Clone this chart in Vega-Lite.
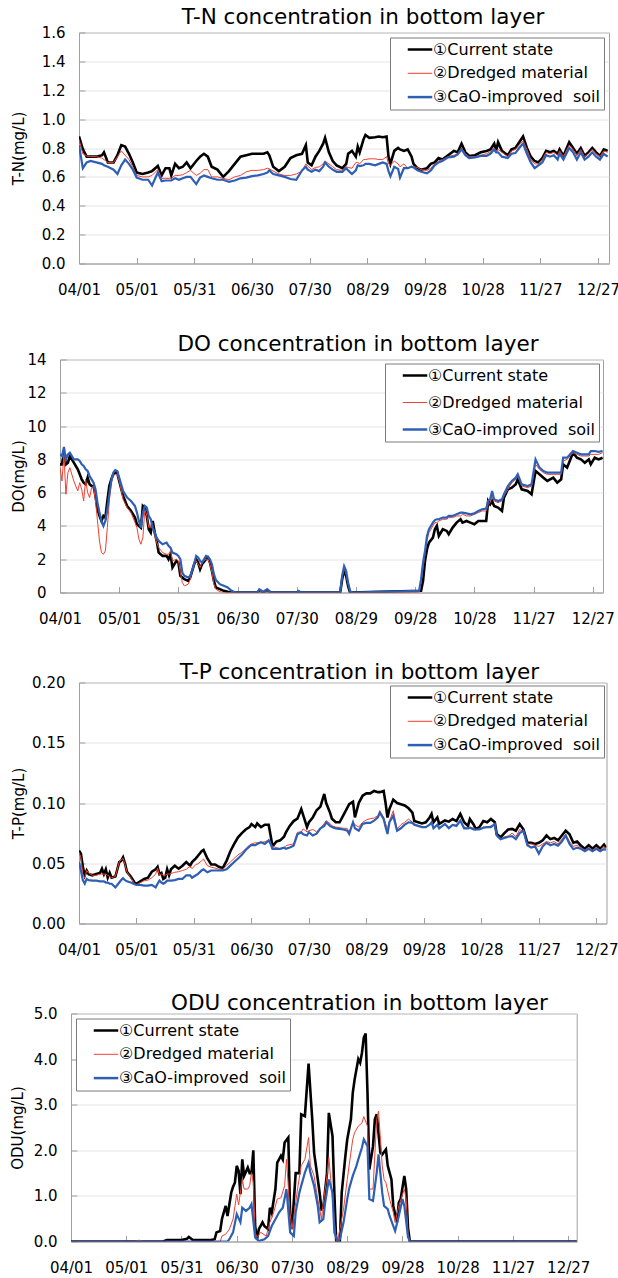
{
"$schema":"https://vega.github.io/schema/vega-lite/v6.json",
"background":"white",
"padding":{"left":9,"top":5.5,"right":0,"bottom":0},
"columns":1,
"spacing":34,
"config":{
 "view":{"stroke":"#a0a0a0","strokeWidth":1},
 "font":"DejaVu Sans",
 "axis":{"labelFont":"DejaVu Sans","labelFontSize":15,"labelColor":"#000","titleFont":"DejaVu Sans","titleFontSize":15,"titleFontWeight":"normal","titleColor":"#000","domainColor":"#a0a0a0","tickColor":"#a0a0a0","tickSize":-6,"labelFlush":false,"labelOverlap":false,"labelBound":false},
 "axisX":{"grid":false,"labelPadding":25},
 "axisY":{"grid":true,"gridColor":"#e4e4e4","labelPadding":20},
 "title":{"font":"DejaVu Sans","fontSize":21.5,"fontWeight":"normal","color":"#000","anchor":"middle","frame":"group"},
 "legend":{"fillColor":"#ffffff","strokeColor":"#7a7a7a","padding":4,"symbolType":"stroke","symbolSize":600,"symbolOffset":18,"symbolStrokeWidth":2.5,"labelFont":"DejaVu Sans","labelFontSize":16,"labelColor":"#000","labelOffset":5,"rowPadding":7.8,"labelLimit":300}
},
"resolve":{"scale":{"color":"independent"},"legend":{"color":"independent"}},
"datasets":{
"tn":[
{"d":0,"s":"a","v":0.88},{"d":2,"s":"a","v":0.79},{"d":4,"s":"a","v":0.74},{"d":6,"s":"a","v":0.74},{"d":9,"s":"a","v":0.74},{"d":12,"s":"a","v":0.75},{"d":13,"s":"a","v":0.77},{"d":15,"s":"a","v":0.70},{"d":18,"s":"a","v":0.70},{"d":20,"s":"a","v":0.75},{"d":22,"s":"a","v":0.82},{"d":24,"s":"a","v":0.81},{"d":26,"s":"a","v":0.76},{"d":28,"s":"a","v":0.70},{"d":30,"s":"a","v":0.63},{"d":33,"s":"a","v":0.62},{"d":36,"s":"a","v":0.63},{"d":38,"s":"a","v":0.64},{"d":41,"s":"a","v":0.675},{"d":43,"s":"a","v":0.61},{"d":45,"s":"a","v":0.66},{"d":47,"s":"a","v":0.66},{"d":48,"s":"a","v":0.61},{"d":50,"s":"a","v":0.69},{"d":52,"s":"a","v":0.66},{"d":54,"s":"a","v":0.67},{"d":56,"s":"a","v":0.70},{"d":58,"s":"a","v":0.66},{"d":61,"s":"a","v":0.71},{"d":63,"s":"a","v":0.74},{"d":65,"s":"a","v":0.76},{"d":67,"s":"a","v":0.74},{"d":69,"s":"a","v":0.67},{"d":72,"s":"a","v":0.65},{"d":75,"s":"a","v":0.60},{"d":78,"s":"a","v":0.64},{"d":81,"s":"a","v":0.69},{"d":84,"s":"a","v":0.74},{"d":87,"s":"a","v":0.75},{"d":90,"s":"a","v":0.76},{"d":93,"s":"a","v":0.76},{"d":96,"s":"a","v":0.76},{"d":98,"s":"a","v":0.77},{"d":99,"s":"a","v":0.75},{"d":101,"s":"a","v":0.67},{"d":104,"s":"a","v":0.64},{"d":107,"s":"a","v":0.67},{"d":110,"s":"a","v":0.73},{"d":113,"s":"a","v":0.75},{"d":116,"s":"a","v":0.76},{"d":118,"s":"a","v":0.82},{"d":119,"s":"a","v":0.70},{"d":121,"s":"a","v":0.68},{"d":123,"s":"a","v":0.74},{"d":125,"s":"a","v":0.78},{"d":127,"s":"a","v":0.83},{"d":128,"s":"a","v":0.87},{"d":130,"s":"a","v":0.77},{"d":132,"s":"a","v":0.71},{"d":134,"s":"a","v":0.68},{"d":137,"s":"a","v":0.66},{"d":139,"s":"a","v":0.69},{"d":140,"s":"a","v":0.76},{"d":142,"s":"a","v":0.78},{"d":144,"s":"a","v":0.74},{"d":145,"s":"a","v":0.81},{"d":146,"s":"a","v":0.77},{"d":148,"s":"a","v":0.86},{"d":149,"s":"a","v":0.89},{"d":151,"s":"a","v":0.87},{"d":154,"s":"a","v":0.875},{"d":156,"s":"a","v":0.88},{"d":158,"s":"a","v":0.875},{"d":160,"s":"a","v":0.88},{"d":161,"s":"a","v":0.74},{"d":162,"s":"a","v":0.69},{"d":164,"s":"a","v":0.78},{"d":166,"s":"a","v":0.80},{"d":167,"s":"a","v":0.79},{"d":169,"s":"a","v":0.78},{"d":171,"s":"a","v":0.79},{"d":173,"s":"a","v":0.74},{"d":174,"s":"a","v":0.69},{"d":176,"s":"a","v":0.66},{"d":178,"s":"a","v":0.65},{"d":181,"s":"a","v":0.66},{"d":183,"s":"a","v":0.69},{"d":185,"s":"a","v":0.70},{"d":187,"s":"a","v":0.73},{"d":189,"s":"a","v":0.72},{"d":192,"s":"a","v":0.75},{"d":195,"s":"a","v":0.78},{"d":197,"s":"a","v":0.77},{"d":199,"s":"a","v":0.83},{"d":201,"s":"a","v":0.77},{"d":203,"s":"a","v":0.745},{"d":206,"s":"a","v":0.75},{"d":209,"s":"a","v":0.77},{"d":212,"s":"a","v":0.78},{"d":214,"s":"a","v":0.79},{"d":216,"s":"a","v":0.83},{"d":217,"s":"a","v":0.78},{"d":218,"s":"a","v":0.84},{"d":220,"s":"a","v":0.78},{"d":223,"s":"a","v":0.75},{"d":225,"s":"a","v":0.79},{"d":227,"s":"a","v":0.80},{"d":229,"s":"a","v":0.84},{"d":231,"s":"a","v":0.88},{"d":233,"s":"a","v":0.80},{"d":235,"s":"a","v":0.74},{"d":237,"s":"a","v":0.71},{"d":239,"s":"a","v":0.70},{"d":241,"s":"a","v":0.73},{"d":243,"s":"a","v":0.78},{"d":245,"s":"a","v":0.77},{"d":247,"s":"a","v":0.78},{"d":249,"s":"a","v":0.76},{"d":250,"s":"a","v":0.79},{"d":252,"s":"a","v":0.745},{"d":255,"s":"a","v":0.84},{"d":257,"s":"a","v":0.80},{"d":259,"s":"a","v":0.76},{"d":261,"s":"a","v":0.80},{"d":263,"s":"a","v":0.745},{"d":265,"s":"a","v":0.77},{"d":267,"s":"a","v":0.80},{"d":269,"s":"a","v":0.77},{"d":271,"s":"a","v":0.745},{"d":273,"s":"a","v":0.79},{"d":275,"s":"a","v":0.78},
{"d":0,"s":"b","v":0.86},{"d":2,"s":"b","v":0.76},{"d":4,"s":"b","v":0.745},{"d":6,"s":"b","v":0.74},{"d":9,"s":"b","v":0.74},{"d":12,"s":"b","v":0.73},{"d":13,"s":"b","v":0.72},{"d":15,"s":"b","v":0.70},{"d":18,"s":"b","v":0.70},{"d":20,"s":"b","v":0.74},{"d":22,"s":"b","v":0.78},{"d":24,"s":"b","v":0.75},{"d":26,"s":"b","v":0.72},{"d":28,"s":"b","v":0.67},{"d":30,"s":"b","v":0.61},{"d":33,"s":"b","v":0.60},{"d":36,"s":"b","v":0.60},{"d":38,"s":"b","v":0.61},{"d":41,"s":"b","v":0.65},{"d":43,"s":"b","v":0.59},{"d":45,"s":"b","v":0.59},{"d":47,"s":"b","v":0.59},{"d":48,"s":"b","v":0.59},{"d":50,"s":"b","v":0.61},{"d":52,"s":"b","v":0.61},{"d":54,"s":"b","v":0.615},{"d":56,"s":"b","v":0.63},{"d":58,"s":"b","v":0.645},{"d":61,"s":"b","v":0.61},{"d":63,"s":"b","v":0.625},{"d":65,"s":"b","v":0.65},{"d":67,"s":"b","v":0.65},{"d":69,"s":"b","v":0.60},{"d":72,"s":"b","v":0.60},{"d":75,"s":"b","v":0.59},{"d":78,"s":"b","v":0.58},{"d":81,"s":"b","v":0.60},{"d":84,"s":"b","v":0.61},{"d":87,"s":"b","v":0.635},{"d":90,"s":"b","v":0.645},{"d":93,"s":"b","v":0.645},{"d":96,"s":"b","v":0.65},{"d":98,"s":"b","v":0.66},{"d":99,"s":"b","v":0.655},{"d":101,"s":"b","v":0.64},{"d":104,"s":"b","v":0.62},{"d":107,"s":"b","v":0.61},{"d":110,"s":"b","v":0.61},{"d":113,"s":"b","v":0.62},{"d":116,"s":"b","v":0.64},{"d":118,"s":"b","v":0.69},{"d":119,"s":"b","v":0.675},{"d":121,"s":"b","v":0.65},{"d":123,"s":"b","v":0.665},{"d":125,"s":"b","v":0.67},{"d":127,"s":"b","v":0.69},{"d":128,"s":"b","v":0.71},{"d":130,"s":"b","v":0.69},{"d":132,"s":"b","v":0.67},{"d":134,"s":"b","v":0.65},{"d":137,"s":"b","v":0.645},{"d":139,"s":"b","v":0.67},{"d":140,"s":"b","v":0.665},{"d":142,"s":"b","v":0.66},{"d":144,"s":"b","v":0.70},{"d":145,"s":"b","v":0.70},{"d":146,"s":"b","v":0.69},{"d":148,"s":"b","v":0.72},{"d":149,"s":"b","v":0.72},{"d":151,"s":"b","v":0.725},{"d":154,"s":"b","v":0.725},{"d":156,"s":"b","v":0.72},{"d":158,"s":"b","v":0.72},{"d":160,"s":"b","v":0.74},{"d":161,"s":"b","v":0.69},{"d":162,"s":"b","v":0.68},{"d":164,"s":"b","v":0.71},{"d":166,"s":"b","v":0.69},{"d":167,"s":"b","v":0.67},{"d":169,"s":"b","v":0.69},{"d":171,"s":"b","v":0.66},{"d":173,"s":"b","v":0.675},{"d":174,"s":"b","v":0.67},{"d":176,"s":"b","v":0.665},{"d":178,"s":"b","v":0.65},{"d":181,"s":"b","v":0.645},{"d":183,"s":"b","v":0.66},{"d":185,"s":"b","v":0.69},{"d":187,"s":"b","v":0.71},{"d":189,"s":"b","v":0.72},{"d":192,"s":"b","v":0.74},{"d":195,"s":"b","v":0.75},{"d":197,"s":"b","v":0.76},{"d":199,"s":"b","v":0.80},{"d":201,"s":"b","v":0.76},{"d":203,"s":"b","v":0.74},{"d":206,"s":"b","v":0.74},{"d":209,"s":"b","v":0.75},{"d":212,"s":"b","v":0.76},{"d":214,"s":"b","v":0.775},{"d":216,"s":"b","v":0.80},{"d":217,"s":"b","v":0.78},{"d":218,"s":"b","v":0.79},{"d":220,"s":"b","v":0.77},{"d":223,"s":"b","v":0.74},{"d":225,"s":"b","v":0.78},{"d":227,"s":"b","v":0.79},{"d":229,"s":"b","v":0.82},{"d":231,"s":"b","v":0.85},{"d":233,"s":"b","v":0.79},{"d":235,"s":"b","v":0.72},{"d":237,"s":"b","v":0.69},{"d":239,"s":"b","v":0.69},{"d":241,"s":"b","v":0.72},{"d":243,"s":"b","v":0.77},{"d":245,"s":"b","v":0.76},{"d":247,"s":"b","v":0.77},{"d":249,"s":"b","v":0.75},{"d":250,"s":"b","v":0.78},{"d":252,"s":"b","v":0.74},{"d":255,"s":"b","v":0.82},{"d":257,"s":"b","v":0.79},{"d":259,"s":"b","v":0.75},{"d":261,"s":"b","v":0.79},{"d":263,"s":"b","v":0.74},{"d":265,"s":"b","v":0.76},{"d":267,"s":"b","v":0.79},{"d":269,"s":"b","v":0.76},{"d":271,"s":"b","v":0.74},{"d":273,"s":"b","v":0.78},{"d":275,"s":"b","v":0.77},
{"d":0,"s":"c","v":0.82},{"d":2,"s":"c","v":0.66},{"d":4,"s":"c","v":0.70},{"d":6,"s":"c","v":0.71},{"d":9,"s":"c","v":0.70},{"d":12,"s":"c","v":0.69},{"d":13,"s":"c","v":0.68},{"d":15,"s":"c","v":0.67},{"d":18,"s":"c","v":0.65},{"d":20,"s":"c","v":0.62},{"d":22,"s":"c","v":0.68},{"d":24,"s":"c","v":0.72},{"d":26,"s":"c","v":0.69},{"d":28,"s":"c","v":0.65},{"d":30,"s":"c","v":0.595},{"d":33,"s":"c","v":0.58},{"d":36,"s":"c","v":0.58},{"d":38,"s":"c","v":0.54},{"d":41,"s":"c","v":0.63},{"d":43,"s":"c","v":0.57},{"d":45,"s":"c","v":0.575},{"d":47,"s":"c","v":0.575},{"d":48,"s":"c","v":0.575},{"d":50,"s":"c","v":0.59},{"d":52,"s":"c","v":0.58},{"d":54,"s":"c","v":0.59},{"d":56,"s":"c","v":0.60},{"d":58,"s":"c","v":0.60},{"d":61,"s":"c","v":0.55},{"d":63,"s":"c","v":0.595},{"d":65,"s":"c","v":0.61},{"d":67,"s":"c","v":0.60},{"d":69,"s":"c","v":0.59},{"d":72,"s":"c","v":0.58},{"d":75,"s":"c","v":0.58},{"d":78,"s":"c","v":0.565},{"d":81,"s":"c","v":0.575},{"d":84,"s":"c","v":0.59},{"d":87,"s":"c","v":0.595},{"d":90,"s":"c","v":0.605},{"d":93,"s":"c","v":0.61},{"d":96,"s":"c","v":0.62},{"d":98,"s":"c","v":0.63},{"d":99,"s":"c","v":0.645},{"d":101,"s":"c","v":0.62},{"d":104,"s":"c","v":0.61},{"d":107,"s":"c","v":0.60},{"d":110,"s":"c","v":0.585},{"d":113,"s":"c","v":0.58},{"d":116,"s":"c","v":0.645},{"d":118,"s":"c","v":0.67},{"d":119,"s":"c","v":0.65},{"d":121,"s":"c","v":0.635},{"d":123,"s":"c","v":0.65},{"d":125,"s":"c","v":0.64},{"d":127,"s":"c","v":0.67},{"d":128,"s":"c","v":0.70},{"d":130,"s":"c","v":0.67},{"d":132,"s":"c","v":0.65},{"d":134,"s":"c","v":0.635},{"d":137,"s":"c","v":0.635},{"d":139,"s":"c","v":0.66},{"d":140,"s":"c","v":0.645},{"d":142,"s":"c","v":0.62},{"d":144,"s":"c","v":0.645},{"d":145,"s":"c","v":0.68},{"d":146,"s":"c","v":0.675},{"d":148,"s":"c","v":0.68},{"d":149,"s":"c","v":0.69},{"d":151,"s":"c","v":0.69},{"d":154,"s":"c","v":0.68},{"d":156,"s":"c","v":0.69},{"d":158,"s":"c","v":0.70},{"d":160,"s":"c","v":0.69},{"d":161,"s":"c","v":0.64},{"d":162,"s":"c","v":0.605},{"d":164,"s":"c","v":0.67},{"d":166,"s":"c","v":0.655},{"d":167,"s":"c","v":0.595},{"d":169,"s":"c","v":0.66},{"d":171,"s":"c","v":0.66},{"d":173,"s":"c","v":0.67},{"d":174,"s":"c","v":0.665},{"d":176,"s":"c","v":0.645},{"d":178,"s":"c","v":0.635},{"d":181,"s":"c","v":0.625},{"d":183,"s":"c","v":0.645},{"d":185,"s":"c","v":0.68},{"d":187,"s":"c","v":0.70},{"d":189,"s":"c","v":0.71},{"d":192,"s":"c","v":0.735},{"d":195,"s":"c","v":0.74},{"d":197,"s":"c","v":0.755},{"d":199,"s":"c","v":0.79},{"d":201,"s":"c","v":0.75},{"d":203,"s":"c","v":0.73},{"d":206,"s":"c","v":0.735},{"d":209,"s":"c","v":0.745},{"d":212,"s":"c","v":0.745},{"d":214,"s":"c","v":0.76},{"d":216,"s":"c","v":0.79},{"d":217,"s":"c","v":0.77},{"d":218,"s":"c","v":0.77},{"d":220,"s":"c","v":0.74},{"d":223,"s":"c","v":0.73},{"d":225,"s":"c","v":0.76},{"d":227,"s":"c","v":0.765},{"d":229,"s":"c","v":0.80},{"d":231,"s":"c","v":0.83},{"d":233,"s":"c","v":0.76},{"d":235,"s":"c","v":0.70},{"d":237,"s":"c","v":0.66},{"d":239,"s":"c","v":0.68},{"d":241,"s":"c","v":0.70},{"d":243,"s":"c","v":0.75},{"d":245,"s":"c","v":0.74},{"d":247,"s":"c","v":0.75},{"d":249,"s":"c","v":0.72},{"d":250,"s":"c","v":0.76},{"d":252,"s":"c","v":0.72},{"d":255,"s":"c","v":0.80},{"d":257,"s":"c","v":0.77},{"d":259,"s":"c","v":0.72},{"d":261,"s":"c","v":0.77},{"d":263,"s":"c","v":0.72},{"d":265,"s":"c","v":0.74},{"d":267,"s":"c","v":0.77},{"d":269,"s":"c","v":0.74},{"d":271,"s":"c","v":0.72},{"d":273,"s":"c","v":0.76},{"d":275,"s":"c","v":0.74}
],
"do":[
{"d":0,"s":"a","v":7.7},{"d":1,"s":"a","v":7.7},{"d":2,"s":"a","v":8.4},{"d":3,"s":"a","v":7.7},{"d":4,"s":"a","v":7.8},{"d":5,"s":"a","v":8.2},{"d":7,"s":"a","v":7.8},{"d":9,"s":"a","v":7.4},{"d":10,"s":"a","v":7.1},{"d":11,"s":"a","v":6.8},{"d":12,"s":"a","v":6.6},{"d":13,"s":"a","v":6.5},{"d":14,"s":"a","v":6.9},{"d":15,"s":"a","v":6.5},{"d":16,"s":"a","v":6.4},{"d":17,"s":"a","v":6.4},{"d":18,"s":"a","v":5.8},{"d":19,"s":"a","v":5.0},{"d":20,"s":"a","v":4.6},{"d":21,"s":"a","v":4.3},{"d":22,"s":"a","v":4.6},{"d":23,"s":"a","v":4.5},{"d":24,"s":"a","v":5.5},{"d":25,"s":"a","v":6.4},{"d":26,"s":"a","v":6.8},{"d":27,"s":"a","v":7.1},{"d":28,"s":"a","v":7.2},{"d":29,"s":"a","v":7.2},{"d":30,"s":"a","v":6.7},{"d":32,"s":"a","v":5.8},{"d":34,"s":"a","v":5.2},{"d":36,"s":"a","v":4.9},{"d":38,"s":"a","v":4.5},{"d":39,"s":"a","v":4.1},{"d":40,"s":"a","v":4.0},{"d":41,"s":"a","v":3.9},{"d":42,"s":"a","v":5.2},{"d":43,"s":"a","v":5.1},{"d":44,"s":"a","v":4.6},{"d":45,"s":"a","v":3.8},{"d":46,"s":"a","v":3.6},{"d":47,"s":"a","v":4.3},{"d":48,"s":"a","v":3.6},{"d":49,"s":"a","v":3.1},{"d":50,"s":"a","v":2.4},{"d":52,"s":"a","v":2.2},{"d":54,"s":"a","v":2.2},{"d":55,"s":"a","v":2.0},{"d":56,"s":"a","v":2.3},{"d":57,"s":"a","v":1.5},{"d":59,"s":"a","v":1.9},{"d":60,"s":"a","v":1.8},{"d":61,"s":"a","v":1.0},{"d":62,"s":"a","v":0.9},{"d":63,"s":"a","v":0.8},{"d":65,"s":"a","v":0.7},{"d":66,"s":"a","v":0.9},{"d":68,"s":"a","v":1.7},{"d":69,"s":"a","v":2.0},{"d":70,"s":"a","v":1.8},{"d":71,"s":"a","v":1.4},{"d":72,"s":"a","v":1.7},{"d":74,"s":"a","v":2.0},{"d":75,"s":"a","v":2.1},{"d":76,"s":"a","v":1.8},{"d":77,"s":"a","v":1.3},{"d":78,"s":"a","v":0.7},{"d":79,"s":"a","v":0.3},{"d":81,"s":"a","v":0.2},{"d":83,"s":"a","v":0.1},{"d":85,"s":"a","v":0.04},{"d":87,"s":"a","v":0},{"d":100,"s":"a","v":0},{"d":101,"s":"a","v":0.1},{"d":103,"s":"a","v":0},{"d":105,"s":"a","v":0.1},{"d":107,"s":"a","v":0},{"d":120,"s":"a","v":0},{"d":121,"s":"a","v":0.05},{"d":122,"s":"a","v":0},{"d":142,"s":"a","v":0},{"d":143,"s":"a","v":0.8},{"d":144,"s":"a","v":1.34},{"d":145,"s":"a","v":1.0},{"d":146,"s":"a","v":0.4},{"d":147,"s":"a","v":0},{"d":183,"s":"a","v":0.1},{"d":184,"s":"a","v":0.7},{"d":185,"s":"a","v":1.9},{"d":186,"s":"a","v":2.6},{"d":187,"s":"a","v":3.0},{"d":189,"s":"a","v":3.3},{"d":190,"s":"a","v":3.8},{"d":191,"s":"a","v":4.0},{"d":192,"s":"a","v":3.4},{"d":194,"s":"a","v":3.8},{"d":196,"s":"a","v":3.7},{"d":197,"s":"a","v":3.5},{"d":199,"s":"a","v":3.9},{"d":201,"s":"a","v":4.2},{"d":203,"s":"a","v":4.4},{"d":204,"s":"a","v":4.2},{"d":206,"s":"a","v":4.3},{"d":208,"s":"a","v":4.2},{"d":210,"s":"a","v":4.1},{"d":212,"s":"a","v":4.3},{"d":214,"s":"a","v":4.3},{"d":216,"s":"a","v":4.3},{"d":217,"s":"a","v":5.5},{"d":218,"s":"a","v":5.3},{"d":219,"s":"a","v":5.5},{"d":220,"s":"a","v":5.2},{"d":222,"s":"a","v":5.1},{"d":224,"s":"a","v":4.9},{"d":225,"s":"a","v":5.7},{"d":227,"s":"a","v":6.2},{"d":229,"s":"a","v":6.3},{"d":231,"s":"a","v":6.5},{"d":232,"s":"a","v":6.8},{"d":234,"s":"a","v":6.2},{"d":237,"s":"a","v":6.1},{"d":239,"s":"a","v":5.9},{"d":241,"s":"a","v":7.3},{"d":243,"s":"a","v":7.1},{"d":245,"s":"a","v":6.9},{"d":247,"s":"a","v":6.7},{"d":250,"s":"a","v":6.9},{"d":252,"s":"a","v":6.6},{"d":254,"s":"a","v":6.8},{"d":255,"s":"a","v":7.7},{"d":257,"s":"a","v":7.5},{"d":260,"s":"a","v":8.4},{"d":262,"s":"a","v":8.1},{"d":264,"s":"a","v":8.0},{"d":266,"s":"a","v":7.8},{"d":268,"s":"a","v":8.0},{"d":269,"s":"a","v":7.7},{"d":271,"s":"a","v":8.1},{"d":273,"s":"a","v":8.0},{"d":275,"s":"a","v":8.1},
{"d":0,"s":"b","v":7.5},{"d":1,"s":"b","v":6.7},{"d":2,"s":"b","v":8.3},{"d":3,"s":"b","v":5.9},{"d":4,"s":"b","v":7.2},{"d":5,"s":"b","v":7.5},{"d":7,"s":"b","v":6.7},{"d":9,"s":"b","v":6.1},{"d":10,"s":"b","v":6.6},{"d":11,"s":"b","v":6.2},{"d":12,"s":"b","v":5.5},{"d":13,"s":"b","v":6.8},{"d":14,"s":"b","v":6.0},{"d":15,"s":"b","v":5.7},{"d":16,"s":"b","v":6.3},{"d":17,"s":"b","v":6.4},{"d":18,"s":"b","v":5.5},{"d":19,"s":"b","v":4.3},{"d":20,"s":"b","v":3.1},{"d":21,"s":"b","v":2.4},{"d":22,"s":"b","v":2.3},{"d":23,"s":"b","v":2.5},{"d":24,"s":"b","v":3.9},{"d":25,"s":"b","v":5.5},{"d":26,"s":"b","v":6.6},{"d":27,"s":"b","v":7.0},{"d":28,"s":"b","v":7.1},{"d":29,"s":"b","v":7.1},{"d":30,"s":"b","v":6.7},{"d":32,"s":"b","v":5.6},{"d":34,"s":"b","v":5.1},{"d":36,"s":"b","v":4.8},{"d":38,"s":"b","v":4.2},{"d":39,"s":"b","v":3.9},{"d":40,"s":"b","v":3.2},{"d":41,"s":"b","v":2.9},{"d":42,"s":"b","v":3.3},{"d":43,"s":"b","v":5.0},{"d":44,"s":"b","v":4.6},{"d":45,"s":"b","v":3.9},{"d":46,"s":"b","v":4.0},{"d":47,"s":"b","v":3.8},{"d":48,"s":"b","v":3.5},{"d":49,"s":"b","v":3.0},{"d":50,"s":"b","v":2.7},{"d":52,"s":"b","v":2.4},{"d":54,"s":"b","v":2.3},{"d":55,"s":"b","v":2.3},{"d":56,"s":"b","v":2.5},{"d":57,"s":"b","v":1.9},{"d":59,"s":"b","v":2.0},{"d":60,"s":"b","v":1.9},{"d":61,"s":"b","v":1.2},{"d":62,"s":"b","v":0.6},{"d":63,"s":"b","v":0.4},{"d":65,"s":"b","v":0.5},{"d":66,"s":"b","v":0.8},{"d":68,"s":"b","v":1.8},{"d":69,"s":"b","v":1.9},{"d":70,"s":"b","v":1.7},{"d":71,"s":"b","v":1.5},{"d":72,"s":"b","v":1.8},{"d":74,"s":"b","v":2.0},{"d":75,"s":"b","v":2.0},{"d":76,"s":"b","v":1.7},{"d":77,"s":"b","v":1.2},{"d":78,"s":"b","v":0.5},{"d":79,"s":"b","v":0.2},{"d":81,"s":"b","v":0.05},{"d":83,"s":"b","v":0},{"d":100,"s":"b","v":0},{"d":101,"s":"b","v":0.1},{"d":103,"s":"b","v":0},{"d":105,"s":"b","v":0.05},{"d":107,"s":"b","v":0},{"d":120,"s":"b","v":0},{"d":121,"s":"b","v":0.05},{"d":122,"s":"b","v":0},{"d":142,"s":"b","v":0},{"d":143,"s":"b","v":0.9},{"d":144,"s":"b","v":1.44},{"d":145,"s":"b","v":1.1},{"d":146,"s":"b","v":0.5},{"d":147,"s":"b","v":0.1},{"d":148,"s":"b","v":0},{"d":182,"s":"b","v":0},{"d":183,"s":"b","v":0.6},{"d":184,"s":"b","v":1.5},{"d":185,"s":"b","v":2.3},{"d":186,"s":"b","v":3.1},{"d":187,"s":"b","v":3.6},{"d":189,"s":"b","v":4.0},{"d":190,"s":"b","v":4.2},{"d":191,"s":"b","v":4.2},{"d":192,"s":"b","v":4.3},{"d":194,"s":"b","v":4.4},{"d":196,"s":"b","v":4.4},{"d":197,"s":"b","v":4.5},{"d":199,"s":"b","v":4.5},{"d":201,"s":"b","v":4.6},{"d":203,"s":"b","v":4.6},{"d":204,"s":"b","v":4.7},{"d":206,"s":"b","v":4.6},{"d":208,"s":"b","v":4.6},{"d":210,"s":"b","v":4.7},{"d":212,"s":"b","v":4.8},{"d":214,"s":"b","v":4.9},{"d":216,"s":"b","v":4.9},{"d":217,"s":"b","v":5.3},{"d":218,"s":"b","v":5.4},{"d":219,"s":"b","v":5.8},{"d":220,"s":"b","v":5.5},{"d":222,"s":"b","v":5.4},{"d":224,"s":"b","v":5.5},{"d":225,"s":"b","v":5.8},{"d":227,"s":"b","v":6.2},{"d":229,"s":"b","v":6.6},{"d":231,"s":"b","v":6.8},{"d":232,"s":"b","v":7.0},{"d":234,"s":"b","v":6.4},{"d":237,"s":"b","v":6.3},{"d":239,"s":"b","v":6.4},{"d":241,"s":"b","v":7.7},{"d":243,"s":"b","v":7.4},{"d":245,"s":"b","v":7.2},{"d":247,"s":"b","v":7.1},{"d":250,"s":"b","v":7.1},{"d":252,"s":"b","v":7.1},{"d":254,"s":"b","v":7.1},{"d":255,"s":"b","v":7.9},{"d":257,"s":"b","v":8.0},{"d":260,"s":"b","v":8.4},{"d":262,"s":"b","v":8.3},{"d":264,"s":"b","v":8.2},{"d":266,"s":"b","v":8.2},{"d":268,"s":"b","v":8.2},{"d":269,"s":"b","v":8.3},{"d":271,"s":"b","v":8.3},{"d":273,"s":"b","v":8.3},{"d":275,"s":"b","v":8.4},
{"d":0,"s":"c","v":8.3},{"d":1,"s":"c","v":8.2},{"d":2,"s":"c","v":8.74},{"d":3,"s":"c","v":8.0},{"d":4,"s":"c","v":8.3},{"d":5,"s":"c","v":8.4},{"d":7,"s":"c","v":8.0},{"d":9,"s":"c","v":8.0},{"d":10,"s":"c","v":7.9},{"d":11,"s":"c","v":7.7},{"d":12,"s":"c","v":7.6},{"d":13,"s":"c","v":7.4},{"d":14,"s":"c","v":7.3},{"d":15,"s":"c","v":7.0},{"d":16,"s":"c","v":6.8},{"d":17,"s":"c","v":6.6},{"d":18,"s":"c","v":6.2},{"d":19,"s":"c","v":5.4},{"d":20,"s":"c","v":4.8},{"d":21,"s":"c","v":4.3},{"d":22,"s":"c","v":4.0},{"d":23,"s":"c","v":4.3},{"d":24,"s":"c","v":5.0},{"d":25,"s":"c","v":5.9},{"d":26,"s":"c","v":6.7},{"d":27,"s":"c","v":7.2},{"d":28,"s":"c","v":7.35},{"d":29,"s":"c","v":7.3},{"d":30,"s":"c","v":6.9},{"d":32,"s":"c","v":6.1},{"d":34,"s":"c","v":5.7},{"d":36,"s":"c","v":5.5},{"d":38,"s":"c","v":5.2},{"d":39,"s":"c","v":4.8},{"d":40,"s":"c","v":4.3},{"d":41,"s":"c","v":3.9},{"d":42,"s":"c","v":4.8},{"d":43,"s":"c","v":5.2},{"d":44,"s":"c","v":5.1},{"d":45,"s":"c","v":4.6},{"d":46,"s":"c","v":4.4},{"d":47,"s":"c","v":3.9},{"d":48,"s":"c","v":3.6},{"d":49,"s":"c","v":3.3},{"d":50,"s":"c","v":3.1},{"d":52,"s":"c","v":2.9},{"d":54,"s":"c","v":3.0},{"d":55,"s":"c","v":2.8},{"d":56,"s":"c","v":2.7},{"d":57,"s":"c","v":2.4},{"d":59,"s":"c","v":2.3},{"d":60,"s":"c","v":2.2},{"d":61,"s":"c","v":2.0},{"d":62,"s":"c","v":1.2},{"d":63,"s":"c","v":1.0},{"d":65,"s":"c","v":0.9},{"d":66,"s":"c","v":1.0},{"d":68,"s":"c","v":1.7},{"d":69,"s":"c","v":2.2},{"d":70,"s":"c","v":2.1},{"d":71,"s":"c","v":1.9},{"d":72,"s":"c","v":1.8},{"d":74,"s":"c","v":2.2},{"d":75,"s":"c","v":2.15},{"d":76,"s":"c","v":2.0},{"d":77,"s":"c","v":1.7},{"d":78,"s":"c","v":1.1},{"d":79,"s":"c","v":0.75},{"d":81,"s":"c","v":0.5},{"d":83,"s":"c","v":0.4},{"d":85,"s":"c","v":0.3},{"d":87,"s":"c","v":0.1},{"d":89,"s":"c","v":0},{"d":100,"s":"c","v":0},{"d":101,"s":"c","v":0.2},{"d":103,"s":"c","v":0.05},{"d":105,"s":"c","v":0.2},{"d":107,"s":"c","v":0},{"d":120,"s":"c","v":0},{"d":121,"s":"c","v":0.1},{"d":122,"s":"c","v":0},{"d":142,"s":"c","v":0},{"d":143,"s":"c","v":1.0},{"d":144,"s":"c","v":1.58},{"d":145,"s":"c","v":1.3},{"d":146,"s":"c","v":0.6},{"d":147,"s":"c","v":0.1},{"d":148,"s":"c","v":0},{"d":182,"s":"c","v":0.1},{"d":183,"s":"c","v":0.8},{"d":184,"s":"c","v":1.8},{"d":185,"s":"c","v":2.5},{"d":186,"s":"c","v":3.4},{"d":187,"s":"c","v":3.8},{"d":189,"s":"c","v":4.2},{"d":190,"s":"c","v":4.35},{"d":191,"s":"c","v":4.4},{"d":192,"s":"c","v":4.4},{"d":194,"s":"c","v":4.5},{"d":196,"s":"c","v":4.5},{"d":197,"s":"c","v":4.6},{"d":199,"s":"c","v":4.6},{"d":201,"s":"c","v":4.7},{"d":203,"s":"c","v":4.8},{"d":204,"s":"c","v":4.8},{"d":206,"s":"c","v":4.75},{"d":208,"s":"c","v":4.7},{"d":210,"s":"c","v":4.75},{"d":212,"s":"c","v":4.9},{"d":214,"s":"c","v":5.0},{"d":216,"s":"c","v":5.05},{"d":217,"s":"c","v":5.5},{"d":218,"s":"c","v":5.6},{"d":219,"s":"c","v":6.1},{"d":220,"s":"c","v":5.6},{"d":222,"s":"c","v":5.5},{"d":224,"s":"c","v":5.6},{"d":225,"s":"c","v":5.9},{"d":227,"s":"c","v":6.4},{"d":229,"s":"c","v":6.7},{"d":231,"s":"c","v":6.9},{"d":232,"s":"c","v":7.1},{"d":234,"s":"c","v":6.5},{"d":237,"s":"c","v":6.4},{"d":239,"s":"c","v":6.5},{"d":241,"s":"c","v":8.0},{"d":243,"s":"c","v":7.5},{"d":245,"s":"c","v":7.3},{"d":247,"s":"c","v":7.2},{"d":250,"s":"c","v":7.2},{"d":252,"s":"c","v":7.2},{"d":254,"s":"c","v":7.2},{"d":255,"s":"c","v":8.1},{"d":257,"s":"c","v":8.1},{"d":260,"s":"c","v":8.5},{"d":262,"s":"c","v":8.4},{"d":264,"s":"c","v":8.3},{"d":266,"s":"c","v":8.3},{"d":268,"s":"c","v":8.3},{"d":269,"s":"c","v":8.5},{"d":271,"s":"c","v":8.5},{"d":273,"s":"c","v":8.45},{"d":275,"s":"c","v":8.5}
],
"tp":[
{"d":0,"s":"a","v":0.0605},{"d":1,"s":"a","v":0.058},{"d":2,"s":"a","v":0.047},{"d":3,"s":"a","v":0.040},{"d":4,"s":"a","v":0.044},{"d":5,"s":"a","v":0.041},{"d":7,"s":"a","v":0.040},{"d":9,"s":"a","v":0.041},{"d":11,"s":"a","v":0.042},{"d":12,"s":"a","v":0.0455},{"d":13,"s":"a","v":0.041},{"d":14,"s":"a","v":0.045},{"d":15,"s":"a","v":0.038},{"d":16,"s":"a","v":0.042},{"d":17,"s":"a","v":0.038},{"d":19,"s":"a","v":0.039},{"d":21,"s":"a","v":0.051},{"d":22,"s":"a","v":0.052},{"d":23,"s":"a","v":0.055},{"d":24,"s":"a","v":0.050},{"d":25,"s":"a","v":0.043},{"d":27,"s":"a","v":0.039},{"d":29,"s":"a","v":0.034},{"d":30,"s":"a","v":0.033},{"d":32,"s":"a","v":0.035},{"d":34,"s":"a","v":0.037},{"d":36,"s":"a","v":0.038},{"d":38,"s":"a","v":0.043},{"d":40,"s":"a","v":0.045},{"d":41,"s":"a","v":0.047},{"d":42,"s":"a","v":0.041},{"d":43,"s":"a","v":0.042},{"d":44,"s":"a","v":0.037},{"d":45,"s":"a","v":0.038},{"d":46,"s":"a","v":0.045},{"d":47,"s":"a","v":0.040},{"d":48,"s":"a","v":0.045},{"d":50,"s":"a","v":0.048},{"d":52,"s":"a","v":0.0455},{"d":54,"s":"a","v":0.048},{"d":56,"s":"a","v":0.051},{"d":58,"s":"a","v":0.048},{"d":59,"s":"a","v":0.051},{"d":61,"s":"a","v":0.054},{"d":62,"s":"a","v":0.056},{"d":64,"s":"a","v":0.060},{"d":65,"s":"a","v":0.061},{"d":67,"s":"a","v":0.054},{"d":69,"s":"a","v":0.049},{"d":71,"s":"a","v":0.049},{"d":73,"s":"a","v":0.047},{"d":75,"s":"a","v":0.046},{"d":77,"s":"a","v":0.052},{"d":79,"s":"a","v":0.060},{"d":81,"s":"a","v":0.066},{"d":83,"s":"a","v":0.0715},{"d":85,"s":"a","v":0.075},{"d":87,"s":"a","v":0.078},{"d":89,"s":"a","v":0.080},{"d":90,"s":"a","v":0.0825},{"d":92,"s":"a","v":0.080},{"d":93,"s":"a","v":0.083},{"d":95,"s":"a","v":0.080},{"d":97,"s":"a","v":0.082},{"d":99,"s":"a","v":0.082},{"d":100,"s":"a","v":0.073},{"d":101,"s":"a","v":0.064},{"d":103,"s":"a","v":0.068},{"d":105,"s":"a","v":0.069},{"d":107,"s":"a","v":0.072},{"d":108,"s":"a","v":0.0757},{"d":110,"s":"a","v":0.081},{"d":112,"s":"a","v":0.085},{"d":114,"s":"a","v":0.087},{"d":116,"s":"a","v":0.095},{"d":117,"s":"a","v":0.090},{"d":119,"s":"a","v":0.080},{"d":120,"s":"a","v":0.084},{"d":122,"s":"a","v":0.088},{"d":124,"s":"a","v":0.094},{"d":126,"s":"a","v":0.097},{"d":128,"s":"a","v":0.1075},{"d":129,"s":"a","v":0.100},{"d":131,"s":"a","v":0.092},{"d":132,"s":"a","v":0.087},{"d":134,"s":"a","v":0.084},{"d":136,"s":"a","v":0.084},{"d":138,"s":"a","v":0.090},{"d":140,"s":"a","v":0.096},{"d":141,"s":"a","v":0.099},{"d":143,"s":"a","v":0.101},{"d":144,"s":"a","v":0.088},{"d":146,"s":"a","v":0.100},{"d":148,"s":"a","v":0.106},{"d":150,"s":"a","v":0.108},{"d":152,"s":"a","v":0.108},{"d":154,"s":"a","v":0.110},{"d":156,"s":"a","v":0.109},{"d":157,"s":"a","v":0.109},{"d":159,"s":"a","v":0.110},{"d":160,"s":"a","v":0.100},{"d":161,"s":"a","v":0.088},{"d":162,"s":"a","v":0.095},{"d":164,"s":"a","v":0.1028},{"d":166,"s":"a","v":0.100},{"d":168,"s":"a","v":0.099},{"d":170,"s":"a","v":0.098},{"d":172,"s":"a","v":0.0956},{"d":174,"s":"a","v":0.092},{"d":175,"s":"a","v":0.085},{"d":177,"s":"a","v":0.084},{"d":179,"s":"a","v":0.083},{"d":181,"s":"a","v":0.084},{"d":183,"s":"a","v":0.088},{"d":184,"s":"a","v":0.091},{"d":185,"s":"a","v":0.084},{"d":187,"s":"a","v":0.088},{"d":188,"s":"a","v":0.0826},{"d":191,"s":"a","v":0.0855},{"d":193,"s":"a","v":0.0845},{"d":195,"s":"a","v":0.0867},{"d":197,"s":"a","v":0.085},{"d":199,"s":"a","v":0.091},{"d":201,"s":"a","v":0.084},{"d":203,"s":"a","v":0.081},{"d":204,"s":"a","v":0.0867},{"d":206,"s":"a","v":0.082},{"d":207,"s":"a","v":0.0785},{"d":209,"s":"a","v":0.080},{"d":211,"s":"a","v":0.085},{"d":213,"s":"a","v":0.084},{"d":215,"s":"a","v":0.0867},{"d":217,"s":"a","v":0.084},{"d":218,"s":"a","v":0.0743},{"d":220,"s":"a","v":0.0715},{"d":222,"s":"a","v":0.075},{"d":224,"s":"a","v":0.078},{"d":226,"s":"a","v":0.0785},{"d":228,"s":"a","v":0.077},{"d":230,"s":"a","v":0.0825},{"d":232,"s":"a","v":0.078},{"d":234,"s":"a","v":0.067},{"d":236,"s":"a","v":0.067},{"d":238,"s":"a","v":0.066},{"d":240,"s":"a","v":0.067},{"d":242,"s":"a","v":0.069},{"d":244,"s":"a","v":0.073},{"d":246,"s":"a","v":0.070},{"d":248,"s":"a","v":0.071},{"d":250,"s":"a","v":0.069},{"d":252,"s":"a","v":0.073},{"d":254,"s":"a","v":0.077},{"d":256,"s":"a","v":0.074},{"d":258,"s":"a","v":0.067},{"d":260,"s":"a","v":0.068},{"d":262,"s":"a","v":0.0645},{"d":264,"s":"a","v":0.062},{"d":266,"s":"a","v":0.065},{"d":268,"s":"a","v":0.062},{"d":270,"s":"a","v":0.065},{"d":272,"s":"a","v":0.062},{"d":274,"s":"a","v":0.0655},{"d":275,"s":"a","v":0.063},
{"d":0,"s":"b","v":0.059},{"d":1,"s":"b","v":0.055},{"d":2,"s":"b","v":0.040},{"d":3,"s":"b","v":0.038},{"d":4,"s":"b","v":0.044},{"d":5,"s":"b","v":0.042},{"d":7,"s":"b","v":0.040},{"d":9,"s":"b","v":0.040},{"d":11,"s":"b","v":0.041},{"d":12,"s":"b","v":0.041},{"d":13,"s":"b","v":0.041},{"d":14,"s":"b","v":0.041},{"d":15,"s":"b","v":0.040},{"d":16,"s":"b","v":0.039},{"d":17,"s":"b","v":0.038},{"d":19,"s":"b","v":0.039},{"d":21,"s":"b","v":0.051},{"d":22,"s":"b","v":0.053},{"d":23,"s":"b","v":0.054},{"d":24,"s":"b","v":0.049},{"d":25,"s":"b","v":0.043},{"d":27,"s":"b","v":0.038},{"d":29,"s":"b","v":0.033},{"d":30,"s":"b","v":0.032},{"d":32,"s":"b","v":0.034},{"d":34,"s":"b","v":0.0355},{"d":36,"s":"b","v":0.036},{"d":38,"s":"b","v":0.038},{"d":40,"s":"b","v":0.041},{"d":41,"s":"b","v":0.046},{"d":42,"s":"b","v":0.040},{"d":43,"s":"b","v":0.041},{"d":44,"s":"b","v":0.040},{"d":45,"s":"b","v":0.040},{"d":46,"s":"b","v":0.041},{"d":47,"s":"b","v":0.041},{"d":48,"s":"b","v":0.0415},{"d":50,"s":"b","v":0.0425},{"d":52,"s":"b","v":0.043},{"d":54,"s":"b","v":0.044},{"d":56,"s":"b","v":0.045},{"d":58,"s":"b","v":0.0475},{"d":59,"s":"b","v":0.0455},{"d":61,"s":"b","v":0.049},{"d":62,"s":"b","v":0.0495},{"d":64,"s":"b","v":0.052},{"d":65,"s":"b","v":0.0535},{"d":67,"s":"b","v":0.048},{"d":69,"s":"b","v":0.0467},{"d":71,"s":"b","v":0.046},{"d":73,"s":"b","v":0.045},{"d":75,"s":"b","v":0.045},{"d":77,"s":"b","v":0.048},{"d":79,"s":"b","v":0.051},{"d":81,"s":"b","v":0.054},{"d":83,"s":"b","v":0.057},{"d":85,"s":"b","v":0.059},{"d":87,"s":"b","v":0.062},{"d":89,"s":"b","v":0.065},{"d":90,"s":"b","v":0.066},{"d":92,"s":"b","v":0.067},{"d":93,"s":"b","v":0.067},{"d":95,"s":"b","v":0.067},{"d":97,"s":"b","v":0.068},{"d":99,"s":"b","v":0.069},{"d":100,"s":"b","v":0.0665},{"d":101,"s":"b","v":0.064},{"d":103,"s":"b","v":0.063},{"d":105,"s":"b","v":0.062},{"d":107,"s":"b","v":0.063},{"d":108,"s":"b","v":0.0646},{"d":110,"s":"b","v":0.0655},{"d":112,"s":"b","v":0.066},{"d":114,"s":"b","v":0.0757},{"d":116,"s":"b","v":0.076},{"d":117,"s":"b","v":0.0785},{"d":119,"s":"b","v":0.076},{"d":120,"s":"b","v":0.077},{"d":122,"s":"b","v":0.078},{"d":124,"s":"b","v":0.076},{"d":126,"s":"b","v":0.079},{"d":128,"s":"b","v":0.083},{"d":129,"s":"b","v":0.0853},{"d":131,"s":"b","v":0.083},{"d":132,"s":"b","v":0.081},{"d":134,"s":"b","v":0.080},{"d":136,"s":"b","v":0.0795},{"d":138,"s":"b","v":0.079},{"d":140,"s":"b","v":0.079},{"d":141,"s":"b","v":0.0757},{"d":143,"s":"b","v":0.084},{"d":144,"s":"b","v":0.082},{"d":146,"s":"b","v":0.080},{"d":148,"s":"b","v":0.084},{"d":150,"s":"b","v":0.086},{"d":152,"s":"b","v":0.087},{"d":154,"s":"b","v":0.0875},{"d":156,"s":"b","v":0.0895},{"d":157,"s":"b","v":0.0936},{"d":159,"s":"b","v":0.088},{"d":160,"s":"b","v":0.083},{"d":161,"s":"b","v":0.0785},{"d":162,"s":"b","v":0.085},{"d":164,"s":"b","v":0.0936},{"d":166,"s":"b","v":0.0785},{"d":168,"s":"b","v":0.082},{"d":170,"s":"b","v":0.084},{"d":172,"s":"b","v":0.0867},{"d":174,"s":"b","v":0.084},{"d":175,"s":"b","v":0.083},{"d":177,"s":"b","v":0.081},{"d":179,"s":"b","v":0.080},{"d":181,"s":"b","v":0.080},{"d":183,"s":"b","v":0.082},{"d":184,"s":"b","v":0.084},{"d":185,"s":"b","v":0.080},{"d":187,"s":"b","v":0.082},{"d":188,"s":"b","v":0.079},{"d":191,"s":"b","v":0.082},{"d":193,"s":"b","v":0.080},{"d":195,"s":"b","v":0.082},{"d":197,"s":"b","v":0.0815},{"d":199,"s":"b","v":0.085},{"d":201,"s":"b","v":0.080},{"d":203,"s":"b","v":0.079},{"d":204,"s":"b","v":0.080},{"d":206,"s":"b","v":0.079},{"d":207,"s":"b","v":0.078},{"d":209,"s":"b","v":0.078},{"d":211,"s":"b","v":0.080},{"d":213,"s":"b","v":0.080},{"d":215,"s":"b","v":0.081},{"d":217,"s":"b","v":0.082},{"d":218,"s":"b","v":0.074},{"d":220,"s":"b","v":0.070},{"d":222,"s":"b","v":0.072},{"d":224,"s":"b","v":0.0725},{"d":226,"s":"b","v":0.075},{"d":228,"s":"b","v":0.072},{"d":230,"s":"b","v":0.078},{"d":232,"s":"b","v":0.076},{"d":234,"s":"b","v":0.066},{"d":236,"s":"b","v":0.066},{"d":238,"s":"b","v":0.065},{"d":240,"s":"b","v":0.064},{"d":242,"s":"b","v":0.066},{"d":244,"s":"b","v":0.068},{"d":246,"s":"b","v":0.067},{"d":248,"s":"b","v":0.068},{"d":250,"s":"b","v":0.066},{"d":252,"s":"b","v":0.070},{"d":254,"s":"b","v":0.074},{"d":256,"s":"b","v":0.068},{"d":258,"s":"b","v":0.064},{"d":260,"s":"b","v":0.065},{"d":262,"s":"b","v":0.063},{"d":264,"s":"b","v":0.061},{"d":266,"s":"b","v":0.063},{"d":268,"s":"b","v":0.061},{"d":270,"s":"b","v":0.063},{"d":272,"s":"b","v":0.061},{"d":274,"s":"b","v":0.064},{"d":275,"s":"b","v":0.062},
{"d":0,"s":"c","v":0.051},{"d":1,"s":"c","v":0.044},{"d":2,"s":"c","v":0.036},{"d":3,"s":"c","v":0.033},{"d":4,"s":"c","v":0.037},{"d":5,"s":"c","v":0.036},{"d":7,"s":"c","v":0.0356},{"d":9,"s":"c","v":0.0356},{"d":11,"s":"c","v":0.035},{"d":12,"s":"c","v":0.035},{"d":13,"s":"c","v":0.035},{"d":14,"s":"c","v":0.034},{"d":15,"s":"c","v":0.034},{"d":16,"s":"c","v":0.033},{"d":17,"s":"c","v":0.033},{"d":19,"s":"c","v":0.030},{"d":21,"s":"c","v":0.034},{"d":22,"s":"c","v":0.036},{"d":23,"s":"c","v":0.0375},{"d":24,"s":"c","v":0.036},{"d":25,"s":"c","v":0.035},{"d":27,"s":"c","v":0.034},{"d":29,"s":"c","v":0.0325},{"d":30,"s":"c","v":0.032},{"d":32,"s":"c","v":0.032},{"d":34,"s":"c","v":0.0315},{"d":36,"s":"c","v":0.0315},{"d":38,"s":"c","v":0.032},{"d":40,"s":"c","v":0.030},{"d":41,"s":"c","v":0.033},{"d":42,"s":"c","v":0.0356},{"d":43,"s":"c","v":0.034},{"d":44,"s":"c","v":0.033},{"d":45,"s":"c","v":0.034},{"d":46,"s":"c","v":0.0356},{"d":47,"s":"c","v":0.0356},{"d":48,"s":"c","v":0.0356},{"d":50,"s":"c","v":0.036},{"d":52,"s":"c","v":0.037},{"d":54,"s":"c","v":0.037},{"d":56,"s":"c","v":0.040},{"d":58,"s":"c","v":0.040},{"d":59,"s":"c","v":0.038},{"d":61,"s":"c","v":0.040},{"d":62,"s":"c","v":0.041},{"d":64,"s":"c","v":0.044},{"d":65,"s":"c","v":0.045},{"d":67,"s":"c","v":0.0425},{"d":69,"s":"c","v":0.044},{"d":71,"s":"c","v":0.044},{"d":73,"s":"c","v":0.044},{"d":75,"s":"c","v":0.044},{"d":77,"s":"c","v":0.045},{"d":79,"s":"c","v":0.048},{"d":81,"s":"c","v":0.051},{"d":83,"s":"c","v":0.054},{"d":85,"s":"c","v":0.057},{"d":87,"s":"c","v":0.061},{"d":89,"s":"c","v":0.064},{"d":90,"s":"c","v":0.065},{"d":92,"s":"c","v":0.065},{"d":93,"s":"c","v":0.066},{"d":95,"s":"c","v":0.0675},{"d":97,"s":"c","v":0.066},{"d":99,"s":"c","v":0.069},{"d":100,"s":"c","v":0.066},{"d":101,"s":"c","v":0.062},{"d":103,"s":"c","v":0.062},{"d":105,"s":"c","v":0.062},{"d":107,"s":"c","v":0.063},{"d":108,"s":"c","v":0.062},{"d":110,"s":"c","v":0.063},{"d":112,"s":"c","v":0.0646},{"d":114,"s":"c","v":0.074},{"d":116,"s":"c","v":0.0757},{"d":117,"s":"c","v":0.074},{"d":119,"s":"c","v":0.073},{"d":120,"s":"c","v":0.0757},{"d":122,"s":"c","v":0.073},{"d":124,"s":"c","v":0.0745},{"d":126,"s":"c","v":0.079},{"d":128,"s":"c","v":0.081},{"d":129,"s":"c","v":0.084},{"d":131,"s":"c","v":0.081},{"d":132,"s":"c","v":0.080},{"d":134,"s":"c","v":0.079},{"d":136,"s":"c","v":0.0785},{"d":138,"s":"c","v":0.078},{"d":140,"s":"c","v":0.077},{"d":141,"s":"c","v":0.0743},{"d":143,"s":"c","v":0.084},{"d":144,"s":"c","v":0.079},{"d":146,"s":"c","v":0.077},{"d":148,"s":"c","v":0.0826},{"d":150,"s":"c","v":0.0835},{"d":152,"s":"c","v":0.0835},{"d":154,"s":"c","v":0.0853},{"d":156,"s":"c","v":0.088},{"d":157,"s":"c","v":0.092},{"d":159,"s":"c","v":0.0867},{"d":160,"s":"c","v":0.080},{"d":161,"s":"c","v":0.0743},{"d":162,"s":"c","v":0.084},{"d":164,"s":"c","v":0.0895},{"d":166,"s":"c","v":0.077},{"d":168,"s":"c","v":0.079},{"d":170,"s":"c","v":0.082},{"d":172,"s":"c","v":0.084},{"d":174,"s":"c","v":0.0835},{"d":175,"s":"c","v":0.082},{"d":177,"s":"c","v":0.081},{"d":179,"s":"c","v":0.080},{"d":181,"s":"c","v":0.080},{"d":183,"s":"c","v":0.082},{"d":184,"s":"c","v":0.084},{"d":185,"s":"c","v":0.079},{"d":187,"s":"c","v":0.082},{"d":188,"s":"c","v":0.079},{"d":191,"s":"c","v":0.0826},{"d":193,"s":"c","v":0.079},{"d":195,"s":"c","v":0.0818},{"d":197,"s":"c","v":0.081},{"d":199,"s":"c","v":0.0853},{"d":201,"s":"c","v":0.079},{"d":203,"s":"c","v":0.079},{"d":204,"s":"c","v":0.0795},{"d":206,"s":"c","v":0.078},{"d":207,"s":"c","v":0.078},{"d":209,"s":"c","v":0.078},{"d":211,"s":"c","v":0.0795},{"d":213,"s":"c","v":0.080},{"d":215,"s":"c","v":0.080},{"d":217,"s":"c","v":0.0826},{"d":218,"s":"c","v":0.073},{"d":220,"s":"c","v":0.070},{"d":222,"s":"c","v":0.071},{"d":224,"s":"c","v":0.072},{"d":226,"s":"c","v":0.0725},{"d":228,"s":"c","v":0.070},{"d":230,"s":"c","v":0.075},{"d":232,"s":"c","v":0.077},{"d":234,"s":"c","v":0.065},{"d":236,"s":"c","v":0.063},{"d":238,"s":"c","v":0.064},{"d":240,"s":"c","v":0.058},{"d":242,"s":"c","v":0.064},{"d":244,"s":"c","v":0.067},{"d":246,"s":"c","v":0.065},{"d":248,"s":"c","v":0.066},{"d":250,"s":"c","v":0.0645},{"d":252,"s":"c","v":0.068},{"d":254,"s":"c","v":0.073},{"d":256,"s":"c","v":0.066},{"d":258,"s":"c","v":0.0617},{"d":260,"s":"c","v":0.063},{"d":262,"s":"c","v":0.062},{"d":264,"s":"c","v":0.060},{"d":266,"s":"c","v":0.062},{"d":268,"s":"c","v":0.060},{"d":270,"s":"c","v":0.062},{"d":272,"s":"c","v":0.060},{"d":274,"s":"c","v":0.0617},{"d":275,"s":"c","v":0.061}
],
"odu":[
{"d":0,"s":"a","v":0},{"d":50,"s":"a","v":0},{"d":52,"s":"a","v":0.03},{"d":60,"s":"a","v":0.03},{"d":63,"s":"a","v":0.06},{"d":64,"s":"a","v":0.1},{"d":66,"s":"a","v":0.04},{"d":70,"s":"a","v":0.03},{"d":76,"s":"a","v":0.03},{"d":78,"s":"a","v":0.05},{"d":79,"s":"a","v":0.2},{"d":81,"s":"a","v":0.23},{"d":82,"s":"a","v":0.5},{"d":84,"s":"a","v":0.78},{"d":85,"s":"a","v":0.56},{"d":87,"s":"a","v":1.07},{"d":88,"s":"a","v":1.2},{"d":89,"s":"a","v":1.29},{"d":90,"s":"a","v":1.66},{"d":91,"s":"a","v":1.55},{"d":92,"s":"a","v":1.04},{"d":93,"s":"a","v":1.8},{"d":94,"s":"a","v":1.44},{"d":96,"s":"a","v":1.62},{"d":97,"s":"a","v":1.5},{"d":98,"s":"a","v":1.5},{"d":99,"s":"a","v":2.0},{"d":100,"s":"a","v":0.34},{"d":101,"s":"a","v":0.05},{"d":102,"s":"a","v":0.27},{"d":104,"s":"a","v":0.42},{"d":105,"s":"a","v":0.34},{"d":107,"s":"a","v":0.27},{"d":108,"s":"a","v":0.74},{"d":109,"s":"a","v":0.63},{"d":111,"s":"a","v":1.15},{"d":112,"s":"a","v":1.73},{"d":114,"s":"a","v":1.88},{"d":115,"s":"a","v":1.8},{"d":116,"s":"a","v":2.17},{"d":118,"s":"a","v":2.28},{"d":119,"s":"a","v":0.6},{"d":120,"s":"a","v":0.27},{"d":122,"s":"a","v":1.5},{"d":124,"s":"a","v":1.5},{"d":125,"s":"a","v":2.79},{"d":127,"s":"a","v":2.75},{"d":129,"s":"a","v":3.9},{"d":131,"s":"a","v":2.68},{"d":132,"s":"a","v":1.95},{"d":133,"s":"a","v":1.66},{"d":135,"s":"a","v":1.07},{"d":136,"s":"a","v":0.71},{"d":137,"s":"a","v":0.74},{"d":139,"s":"a","v":1.5},{"d":140,"s":"a","v":2.82},{"d":142,"s":"a","v":2.31},{"d":143,"s":"a","v":1.07},{"d":144,"s":"a","v":0.01},{"d":146,"s":"a","v":0.01},{"d":147,"s":"a","v":1.07},{"d":149,"s":"a","v":1.88},{"d":150,"s":"a","v":2.24},{"d":152,"s":"a","v":2.68},{"d":153,"s":"a","v":3.26},{"d":154,"s":"a","v":3.55},{"d":156,"s":"a","v":4.0},{"d":157,"s":"a","v":3.92},{"d":158,"s":"a","v":4.14},{"d":159,"s":"a","v":4.47},{"d":160,"s":"a","v":4.56},{"d":161,"s":"a","v":3.26},{"d":162,"s":"a","v":1.58},{"d":164,"s":"a","v":2.09},{"d":165,"s":"a","v":2.68},{"d":166,"s":"a","v":2.79},{"d":168,"s":"a","v":1.95},{"d":169,"s":"a","v":1.91},{"d":171,"s":"a","v":2.02},{"d":172,"s":"a","v":1.66},{"d":174,"s":"a","v":1.36},{"d":175,"s":"a","v":0.78},{"d":177,"s":"a","v":0.42},{"d":178,"s":"a","v":0.85},{"d":179,"s":"a","v":0.93},{"d":181,"s":"a","v":1.44},{"d":182,"s":"a","v":1.15},{"d":183,"s":"a","v":0.3},{"d":184,"s":"a","v":0},{"d":275,"s":"a","v":0},
{"d":0,"s":"b","v":0},{"d":35,"s":"b","v":0},{"d":37,"s":"b","v":0.03},{"d":39,"s":"b","v":0},{"d":81,"s":"b","v":0},{"d":82,"s":"b","v":0.12},{"d":84,"s":"b","v":0.16},{"d":86,"s":"b","v":0.27},{"d":88,"s":"b","v":0.49},{"d":90,"s":"b","v":1.04},{"d":91,"s":"b","v":0.8},{"d":93,"s":"b","v":1.36},{"d":94,"s":"b","v":1.15},{"d":96,"s":"b","v":1.15},{"d":97,"s":"b","v":1.22},{"d":98,"s":"b","v":1.51},{"d":99,"s":"b","v":1.3},{"d":100,"s":"b","v":0.2},{"d":101,"s":"b","v":0.09},{"d":103,"s":"b","v":0.2},{"d":106,"s":"b","v":0.12},{"d":108,"s":"b","v":0.42},{"d":110,"s":"b","v":0.63},{"d":112,"s":"b","v":0.93},{"d":114,"s":"b","v":0.96},{"d":116,"s":"b","v":1.22},{"d":117,"s":"b","v":1.8},{"d":119,"s":"b","v":0.6},{"d":120,"s":"b","v":0.27},{"d":122,"s":"b","v":0.85},{"d":123,"s":"b","v":1.15},{"d":125,"s":"b","v":1.66},{"d":127,"s":"b","v":1.8},{"d":129,"s":"b","v":2.28},{"d":130,"s":"b","v":1.66},{"d":132,"s":"b","v":1.44},{"d":134,"s":"b","v":0.93},{"d":136,"s":"b","v":0.49},{"d":137,"s":"b","v":0.85},{"d":139,"s":"b","v":1.44},{"d":140,"s":"b","v":1.84},{"d":142,"s":"b","v":0.93},{"d":144,"s":"b","v":0.01},{"d":145,"s":"b","v":0.05},{"d":148,"s":"b","v":0.71},{"d":150,"s":"b","v":1.36},{"d":151,"s":"b","v":1.66},{"d":153,"s":"b","v":2.24},{"d":154,"s":"b","v":2.39},{"d":156,"s":"b","v":2.53},{"d":158,"s":"b","v":2.6},{"d":159,"s":"b","v":2.74},{"d":161,"s":"b","v":2.53},{"d":162,"s":"b","v":1.15},{"d":164,"s":"b","v":1.15},{"d":166,"s":"b","v":2.68},{"d":167,"s":"b","v":2.86},{"d":169,"s":"b","v":1.66},{"d":170,"s":"b","v":1.36},{"d":171,"s":"b","v":1.29},{"d":173,"s":"b","v":0.93},{"d":175,"s":"b","v":0.64},{"d":176,"s":"b","v":0.42},{"d":178,"s":"b","v":0.78},{"d":181,"s":"b","v":1.15},{"d":182,"s":"b","v":0.93},{"d":183,"s":"b","v":0.2},{"d":184,"s":"b","v":0},{"d":275,"s":"b","v":0},
{"d":0,"s":"c","v":0},{"d":85,"s":"c","v":0},{"d":86,"s":"c","v":0.05},{"d":88,"s":"c","v":0.2},{"d":90,"s":"c","v":0.6},{"d":92,"s":"c","v":0.42},{"d":93,"s":"c","v":0.74},{"d":95,"s":"c","v":0.67},{"d":97,"s":"c","v":0.74},{"d":98,"s":"c","v":0.82},{"d":100,"s":"c","v":0.09},{"d":102,"s":"c","v":0.01},{"d":105,"s":"c","v":0.05},{"d":107,"s":"c","v":0.12},{"d":109,"s":"c","v":0.34},{"d":111,"s":"c","v":0.49},{"d":113,"s":"c","v":0.64},{"d":115,"s":"c","v":0.74},{"d":117,"s":"c","v":1.15},{"d":119,"s":"c","v":0.2},{"d":121,"s":"c","v":0.12},{"d":122,"s":"c","v":0.64},{"d":124,"s":"c","v":1.07},{"d":125,"s":"c","v":1.22},{"d":127,"s":"c","v":1.51},{"d":129,"s":"c","v":1.73},{"d":130,"s":"c","v":1.51},{"d":132,"s":"c","v":1.22},{"d":134,"s":"c","v":0.78},{"d":135,"s":"c","v":0.42},{"d":137,"s":"c","v":0.49},{"d":138,"s":"c","v":0.85},{"d":140,"s":"c","v":1.36},{"d":142,"s":"c","v":1.07},{"d":143,"s":"c","v":0.2},{"d":145,"s":"c","v":0.01},{"d":146,"s":"c","v":0.05},{"d":148,"s":"c","v":0.42},{"d":150,"s":"c","v":0.93},{"d":151,"s":"c","v":1.15},{"d":153,"s":"c","v":1.44},{"d":155,"s":"c","v":1.66},{"d":156,"s":"c","v":1.8},{"d":158,"s":"c","v":2.06},{"d":159,"s":"c","v":2.24},{"d":161,"s":"c","v":2.09},{"d":162,"s":"c","v":0.93},{"d":164,"s":"c","v":0.89},{"d":166,"s":"c","v":1.51},{"d":167,"s":"c","v":1.91},{"d":169,"s":"c","v":1.07},{"d":170,"s":"c","v":0.78},{"d":172,"s":"c","v":0.71},{"d":173,"s":"c","v":0.56},{"d":176,"s":"c","v":0.23},{"d":178,"s":"c","v":0.56},{"d":180,"s":"c","v":0.93},{"d":181,"s":"c","v":0.78},{"d":183,"s":"c","v":0.1},{"d":184,"s":"c","v":0},{"d":275,"s":"c","v":0}
]
},
"concat":[
{"spacing":0,"resolve":{"scale":{"color":"independent"},"legend":{"color":"independent"}},"hconcat":[
{"width":1,"height":1,"data":{"values":[]},"mark":"point","view":{"stroke":null}},
{
 "width":530,"height":231,
 "data":{"name":"tn"},
 "title":{"text":"T-N concentration in bottom layer","dx":19,"offset":-2.7},
 "mark":{"type":"line","clip":true},
 "encoding":{
  "x":{"field":"d","type":"quantitative","scale":{"domain":[0,275.7],"nice":false,"zero":false},"axis":{"title":null,"values":[0,30,60,90,120,150,180,210,240,270],"labelExpr":"timeFormat(datetime(2013, 3, 1 + datum.value), '%m/%d')"}},
  "y":{"field":"v","type":"quantitative","scale":{"domain":[0,1.6],"nice":false},"axis":{"title":"T-N(mg/L)","values":[0,0.2,0.4,0.6,0.8,1.0,1.2,1.4,1.6],"format":".1f","minExtent":33,"maxExtent":33,"titlePadding":20}},
  "color":{"field":"s","type":"nominal","scale":{"domain":["a","b","c"],"range":["#000000","#f04030","#2d5fb5"]},"legend":{"title":null,"orient":"top-right","offset":5,"labelExpr":"datum.value === 'a' ? '①Current state' : datum.value === 'b' ? '②Dredged material' : '③CaO-improved\u00a0 soil'","encode":{"symbols":{"update":{"strokeWidth":{"signal":"datum.value === 'b' ? 1 : 2.5"}}}}}},
  "strokeWidth":{"condition":[{"test":"datum.s === 'b'","value":1},{"test":"datum.s === 'a'","value":2.6}],"value":2.2}
 }
}]},
{"spacing":0,"resolve":{"scale":{"color":"independent"},"legend":{"color":"independent"}},"hconcat":[
{"width":1,"height":1,"data":{"values":[]},"mark":"point","view":{"stroke":null}},
{
 "width":543,"height":233,
 "data":{"name":"do"},
 "title":{"text":"DO concentration in bottom layer","dx":26.5,"offset":-2.7},
 "mark":{"type":"line","clip":true},
 "encoding":{
  "x":{"field":"d","type":"quantitative","scale":{"domain":[0,275.2],"nice":false,"zero":false},"axis":{"title":null,"values":[0,30,60,90,120,150,180,210,240,270],"labelExpr":"timeFormat(datetime(2013, 3, 1 + datum.value), '%m/%d')"}},
  "y":{"field":"v","type":"quantitative","scale":{"domain":[0,14],"nice":false},"axis":{"title":"DO(mg/L)","values":[0,2,4,6,8,10,12,14],"format":"d","minExtent":29,"maxExtent":29,"titlePadding":4.7}},
  "color":{"field":"s","type":"nominal","scale":{"domain":["a","b","c"],"range":["#000000","#f04030","#2d5fb5"]},"legend":{"title":null,"orient":"top-right","offset":4,"rowPadding":11,"labelExpr":"datum.value === 'a' ? '①Current state' : datum.value === 'b' ? '②Dredged material' : '③CaO-improved\u00a0 soil'","encode":{"symbols":{"update":{"strokeWidth":{"signal":"datum.value === 'b' ? 1 : 2.5"}}}}}},
  "strokeWidth":{"condition":[{"test":"datum.s === 'b'","value":1},{"test":"datum.s === 'a'","value":2.6}],"value":2.2}
 }
}]},
{"spacing":0,"resolve":{"scale":{"color":"independent"},"legend":{"color":"independent"}},"hconcat":[
{"width":1,"height":1,"data":{"values":[]},"mark":"point","view":{"stroke":null}},
{
 "width":527.5,"height":241,
 "data":{"name":"tp"},
 "title":{"text":"T-P concentration in bottom layer","dx":16.7,"offset":-8.4},
 "mark":{"type":"line","clip":true},
 "encoding":{
  "x":{"field":"d","type":"quantitative","scale":{"domain":[0,275.3],"nice":false,"zero":false},"axis":{"title":null,"values":[0,30,60,90,120,150,180,210,240,270],"labelExpr":"timeFormat(datetime(2013, 3, 1 + datum.value), '%m/%d')"}},
  "y":{"field":"v","type":"quantitative","scale":{"domain":[0,0.2],"nice":false},"axis":{"title":"T-P(mg/L)","values":[0,0.05,0.1,0.15,0.2],"format":".2f","minExtent":43,"maxExtent":43,"titlePadding":10}},
  "color":{"field":"s","type":"nominal","scale":{"domain":["a","b","c"],"range":["#000000","#f04030","#2d5fb5"]},"legend":{"title":null,"orient":"top-right","offset":3,"labelExpr":"datum.value === 'a' ? '①Current state' : datum.value === 'b' ? '②Dredged material' : '③CaO-improved\u00a0 soil'","encode":{"symbols":{"update":{"strokeWidth":{"signal":"datum.value === 'b' ? 1 : 2.5"}}}}}},
  "strokeWidth":{"condition":[{"test":"datum.s === 'b'","value":1},{"test":"datum.s === 'a'","value":2.6}],"value":2.2}
 }
}]},
{"spacing":0,"resolve":{"scale":{"color":"independent"},"legend":{"color":"independent"}},"hconcat":[
{"width":1,"height":1,"data":{"values":[]},"mark":"point","view":{"stroke":null}},
{
 "width":505.7,"height":228,
 "data":{"name":"odu"},
 "title":{"text":"ODU concentration in bottom layer","dx":35.5,"offset":-8.3},
 "mark":{"type":"line","clip":true},
 "encoding":{
  "x":{"field":"d","type":"quantitative","scale":{"domain":[0,274.6],"nice":false,"zero":false},"axis":{"title":null,"values":[0,30,60,90,120,150,180,210,240,270],"labelExpr":"timeFormat(datetime(2013, 3, 1 + datum.value), '%m/%d')"}},
  "y":{"field":"v","type":"quantitative","scale":{"domain":[0,5],"nice":false},"axis":{"title":"ODU(mg/L)","values":[0,1,2,3,4,5],"format":".1f","minExtent":32.5,"maxExtent":32.5,"titlePadding":12.7}},
  "color":{"field":"s","type":"nominal","scale":{"domain":["a","b","c"],"range":["#000000","#f04030","#2d5fb5"]},"legend":{"title":null,"orient":"top-left","offset":5,"labelExpr":"datum.value === 'a' ? '①Current state' : datum.value === 'b' ? '②Dredged material' : '③CaO-improved\u00a0 soil'","encode":{"symbols":{"update":{"strokeWidth":{"signal":"datum.value === 'b' ? 1 : 2.5"}}}}}},
  "strokeWidth":{"condition":[{"test":"datum.s === 'b'","value":1},{"test":"datum.s === 'a'","value":2.6}],"value":2.2}
 }
}]}
]
}
